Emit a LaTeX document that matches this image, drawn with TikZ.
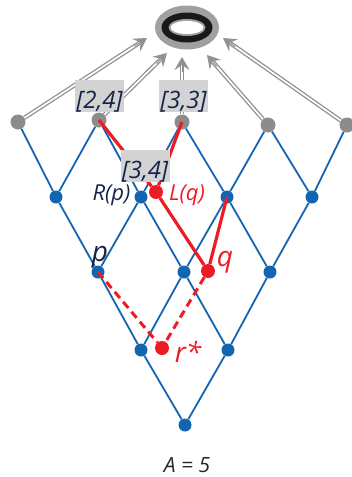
\documentclass[tikz,border=0pt]{standalone}
\usepackage{fontspec}
\setmainfont{Open Sans}
\usetikzlibrary{arrows.meta,shapes.geometric,calc}
\definecolor{lblue}{RGB}{19,101,178}
\definecolor{lred}{RGB}{237,28,36}
\definecolor{navy}{RGB}{22,36,74}
\definecolor{dotgray}{RGB}{140,140,140}
\definecolor{arrgray}{RGB}{145,145,145}
\definecolor{boxgray}{RGB}{211,211,211}
\definecolor{ringgray}{RGB}{160,160,160}
\tikzset{
  bdot/.style={circle, fill=lblue, minimum size=13pt, inner sep=0pt},
  gdot/.style={circle, fill=dotgray, minimum size=15pt, inner sep=0pt},
  rdot/.style={circle, fill=lred, minimum size=14pt, inner sep=0pt},
  blink/.style={draw=lblue, line width=1.8pt},
  redl/.style={draw=lred, line width=3.2pt},
  redd/.style={draw=lred, line width=3pt, dash pattern=on 8pt off 5pt},
  gshaft/.style={draw=arrgray, double=white, double distance=1.7pt, line width=1.3pt, shorten >=8pt},
  ghead/.style={draw=arrgray, line width=1pt, -{Stealth[length=13pt, width=15pt, inset=5pt]}},
  lbl/.style={fill=boxgray, inner sep=0pt, minimum width=49pt, minimum height=32pt,
     text height=24pt, text depth=0pt, text=navy,
     font=\fontsize{24}{28}\selectfont\itshape},
  smalltxt/.style={inner sep=0pt, anchor=base, font=\fontsize{22}{26}\selectfont\itshape},
  bigtxt/.style={inner sep=0pt, anchor=base, font=\fontsize{28}{32}\selectfont\itshape},
}
\begin{document}
\begin{tikzpicture}[x=1pt, y=-1pt]
\useasboundingbox (0,0) rectangle (352,477);

% top symbol
\node[ellipse, fill=ringgray, minimum width=64pt, minimum height=44pt, inner sep=0pt] (top) at (187,27.5) {};
\fill[black!90] (top.center) ellipse [x radius=25.5, y radius=15];
\fill[ringgray] (top.center) ellipse [x radius=18.5, y radius=8.5];
\fill[white] (top.center) ellipse [x radius=16.5, y radius=6.5];

% arrow targets
\coordinate (t1) at (147,38);
\coordinate (t2) at (167,53);
\coordinate (t3) at (182,57);
\coordinate (t4) at (207,55);
\coordinate (t5) at (223,38);

% nodes
\node[gdot] (g1) at (18,122) {};
\node[gdot] (g2) at (99,120) {};
\node[gdot] (g3) at (182,122) {};
\node[gdot] (g4) at (268,125) {};
\node[gdot] (g5) at (347,125) {};

\node[bdot] (b21) at (56,197) {};
\node[bdot] (b22) at (141,197) {};
\node[bdot] (b23) at (227,197) {};
\node[bdot] (b24) at (312,197) {};

\node[bdot] (p) at (98,272) {};
\node[bdot] (b32) at (184,272) {};
\node[bdot] (b33) at (270,272) {};

\node[bdot] (b41) at (141,350) {};
\node[bdot] (b42) at (228,350) {};

\node[bdot] (b5) at (185,425) {};

% lattice
\draw[blink] (g1) -- (b21);
\draw[blink] (g2) -- (b21);
\draw[blink] (g2) -- (b22);
\draw[blink] (g3) -- (b22);
\draw[blink] (g3) -- (b23);
\draw[blink] (g4) -- (b23);
\draw[blink] (g4) -- (b24);
\draw[blink] (g5) -- (b24);
\draw[blink] (b21) -- (p);
\draw[blink] (b22) -- (p);
\draw[blink] (b22) -- (b32);
\draw[blink] (b23) -- (b32);
\draw[blink] (b23) -- (b33);
\draw[blink] (b24) -- (b33);
\draw[blink] (p) -- (b41);
\draw[blink] (b32) -- (b41);
\draw[blink] (b32) -- (b42);
\draw[blink] (b33) -- (b42);
\draw[blink] (b41) -- (b5);
\draw[blink] (b42) -- (b5);

% arrows to top
\foreach \i in {1,...,5} {
  \draw[gshaft] (g\i) -- (t\i);
  \draw[ghead] ($(t\i)!15pt!(g\i)$) -- (t\i);
}

% red nodes
\node[rdot] (lq) at (156,192) {};
\node[rdot] (q) at (208,271) {};
\node[rdot] (rs) at (162,348) {};

% red paths
\draw[redl] (g2.center) -- (lq);
\draw[redl] (lq) -- (q);
\draw[redl] (g3.center) -- (lq);
\draw[redl] (b23.center) -- (q);
\draw[redd] (p.center) -- (rs);
\draw[redd] (q) -- (rs);

% label boxes
\node[lbl] (l24) at (99.5,96) {[2,4]};
\node[lbl] (l33) at (183.5,96) {[3,3]};
\node[lbl] (l34) at (145,166) {[3,4]};

% texts
\node[smalltxt, text=navy] (rp) at (111.5,200) {R(p)};
\node[smalltxt, text=lred] (lqt) at (187,200) {L(q)};
\node[bigtxt, text=navy] (pt) at (100,261) {p};
\node[bigtxt, text=lred] (qt) at (225,266) {q};
\node[bigtxt, text=lred] (rst) at (188,362) {r*};
\node[inner sep=0pt, anchor=base, font=\fontsize{21}{25}\selectfont\itshape, text={black!85}] (at) at (187,472) {A = 5};
\end{tikzpicture}
\end{document}
